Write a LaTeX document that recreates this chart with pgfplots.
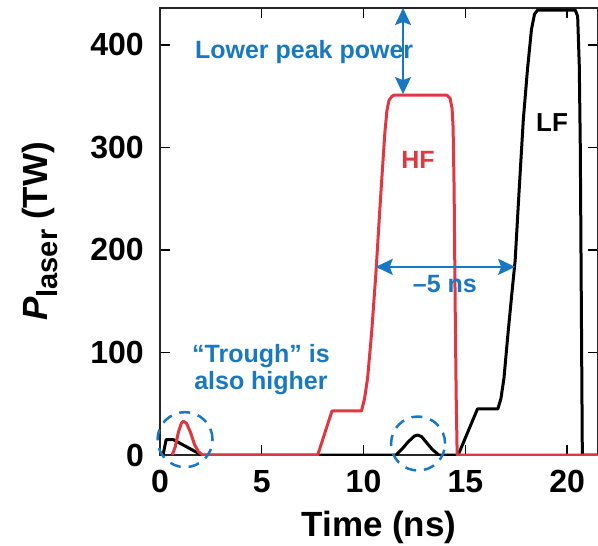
\documentclass[border=0pt]{standalone}
\usepackage{fontspec}
\setmainfont{Liberation Sans}
\usepackage{pgfplots}
\pgfplotsset{compat=1.18}
\usetikzlibrary{arrows.meta}
\definecolor{hfred}{RGB}{225,55,65}
\definecolor{ann}{RGB}{25,120,195}
\begin{document}
\begin{tikzpicture}
\begin{axis}[
  name=ax,
  scale only axis,
  clip mode=individual,
  width=438pt, height=447pt,
  xmin=0, xmax=21.52, ymin=0, ymax=436,
  xtick={0,5,10,15,20}, ytick={0,100,200,300,400},
  tick pos=both, tick align=inside, major tick length=10pt,
  every tick/.style={black, line width=1.4pt},
  axis line style={line width=1.4pt, black!85},
  /pgf/number format/assume math mode=true,
  tick label style={font=\fontsize{32}{32}\selectfont\bfseries},
  xticklabel style={inner sep=0pt, anchor=north, yshift=-15pt},
  yticklabel style={inner sep=0pt, anchor=east, xshift=-16pt},
  xlabel={Time (ns)},
  ylabel={\textit{P}\raisebox{-0.28em}{\fontsize{29}{29}\selectfont laser} (TW)},
  every axis x label/.style={at={(axis description cs:0.5,-0.1834)}, anchor=base, font=\fontsize{35}{35}\selectfont\bfseries},
  every axis y label/.style={at={(axis description cs:-0.2557,0.5)}, rotate=90, anchor=base, font=\fontsize{35}{35}\selectfont\bfseries},
]
% LF (black)
\addplot[black, line width=3pt, line join=round] coordinates {
(0.15,0) (0.3,15) (0.65,15) (2.05,0) (11.6,0) (11.9,6) (12.2,13) (12.5,18.5) (12.65,19.5) (12.85,18) (13.1,12) (13.4,5) (13.7,0)
(14.65,0) (15.6,45) (16.6,45) (16.75,55) (16.9,75) (17.1,119) (17.3,160) (17.45,190) (17.65,260) (17.85,327) (18.05,375) (18.25,415) (18.4,430) (18.55,434)
(20.4,434) (20.52,428) (20.6,380) (20.65,300) (20.7,150) (20.75,0) (21.6,0)
};
% HF (red)
\addplot[hfred, line width=3pt, line join=round] coordinates {
(0.6,0) (0.75,8) (0.9,22) (1.05,31) (1.15,33) (1.3,31) (1.5,22) (1.7,10) (1.9,3) (2.1,0) (7.75,0) (8.45,43) (9.9,43)
(10.05,55) (10.2,75) (10.4,120) (10.6,175) (10.85,255) (11.05,315) (11.15,336) (11.25,346) (11.4,350) (11.5,351) (14.1,351) (14.25,348) (14.35,338) (14.4,320)
(14.45,260) (14.5,150) (14.55,60) (14.6,0) (21.6,0)
};
% annotations
\draw[ann, line width=2pt, {Stealth[length=17pt,width=16pt,inset=3pt]}-{Stealth[length=17pt,width=16pt,inset=3pt]}] (axis cs:11.94,436) -- (axis cs:11.94,352);
\draw[ann, line width=2pt, {Stealth[length=17pt,width=16pt,inset=3pt]}-{Stealth[length=17pt,width=16pt,inset=3pt]}] (axis cs:10.6,183.5) -- (axis cs:17.45,183.5);
\node[ann, font=\fontsize{25}{25}\selectfont\bfseries] at (axis cs:7.08,393) {Lower peak power};
\node[hfred, font=\fontsize{25}{25}\selectfont\bfseries] at (axis cs:12.68,288) {HF};
\node[black, font=\fontsize{26}{26}\selectfont\bfseries] at (axis cs:19.26,324) {LF};
\node[ann, font=\fontsize{25}{25}\selectfont\bfseries] at (axis cs:14.0,167) {–5 ns};
\node[ann, font=\fontsize{25}{27}\selectfont\bfseries, align=center] at (axis cs:4.96,83) {“Trough” is\\also higher};
\draw[ann, line width=2.5pt, dash pattern=on 11pt off 8pt] (axis cs:1.23,15) circle[radius=27.5pt];
\draw[ann, line width=2.5pt, dash pattern=on 11pt off 8pt] (axis cs:12.68,11.2) circle[radius=27pt];
\end{axis}
\pgfresetboundingbox
\path ([shift={(-160pt,-90pt)}]ax.south west) rectangle ([shift={(0pt,8pt)}]ax.north east);
\end{tikzpicture}
\end{document}
